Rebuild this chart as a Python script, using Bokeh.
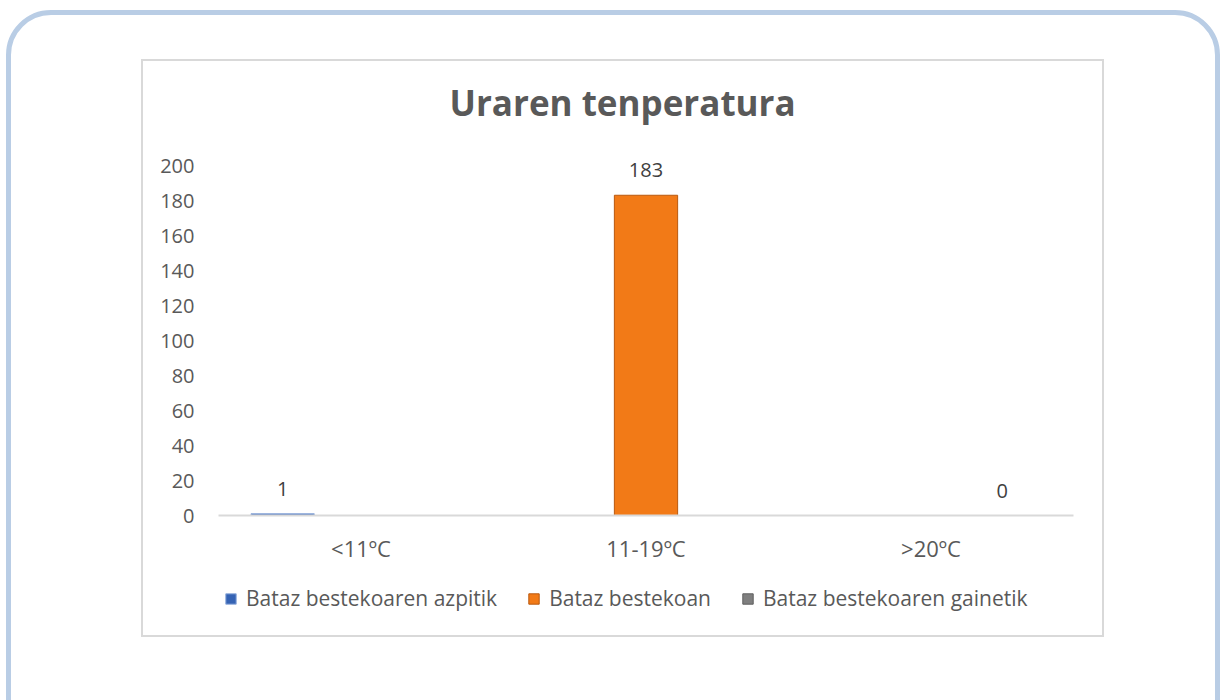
from bokeh.plotting import figure
from bokeh.layouts import column
from bokeh.models import (FactorRange, Range1d, ColumnDataSource, Legend, LegendItem,
                          FixedTicker, InlineStyleSheet)
from bokeh.transform import dodge
from bokeh.core.properties import value
from bokeh.embed import file_html
from bokeh.resources import INLINE

# ---- data ----
categories = ["<11ºC", "11-19ºC", ">20ºC"]
series_names = ["Bataz bestekoaren azpitik", "Bataz bestekoan", "Bataz bestekoaren gainetik"]
azpitik = [1, None, None]
bestekoan = [None, 183, None]
gainetik = [None, None, 0]
yticks = [0, 20, 40, 60, 80, 100, 120, 140, 160, 180, 200]

FONT = "Open Sans"
TXT = "#595959"

deco = InlineStyleSheet(css="""
:host { position: relative; overflow: hidden; }
:host::before { content: ""; position: absolute; left: 141px; top: 59px; width: 963px; height: 578px;
  border: 2px solid #d9d9d9; box-sizing: border-box; pointer-events: none; z-index: 1; }
:host::after { content: ""; position: absolute; left: 6px; top: 10px; width: 1214px; height: 740px;
  border: 5px solid #b9cde5; border-radius: 45px; box-sizing: border-box; pointer-events: none; z-index: 1; }
""")

# y range extends a little above 200 so the value labels are not clipped by the frame
p = figure(x_range=FactorRange(*categories), y_range=Range1d(0, 200 + 20 / 1.75),
           width=1222, height=575, output_backend="svg", toolbar_location=None,
           min_border_left=218, min_border_right=149, min_border_top=145, min_border_bottom=60,
           title="Uraren tenperatura")
p.outline_line_color = None
p.xgrid.visible = False
p.ygrid.visible = False
p.background_fill_color = None
p.border_fill_color = None

p.title.align = "left"
p.title.offset = 231
p.title.standoff = 39
p.title.text_font = FONT
p.title.text_font_size = "35px"
p.title.text_font_style = "bold"
p.title.text_color = TXT

# legend strip (separate small figure so the legend is not clipped by the plot frame)
q = figure(width=1222, height=125, output_backend="svg", toolbar_location=None,
           x_range=Range1d(0, 1), y_range=Range1d(0, 1),
           x_axis_location=None, y_axis_location=None,
           min_border_left=218, min_border_right=149, min_border_top=0, min_border_bottom=0)
q.outline_line_color = None
q.xgrid.visible = False
q.ygrid.visible = False
q.background_fill_color = None
q.border_fill_color = None

specs = [
    (series_names[0], azpitik, -0.275, "#3563b4", "#8eaadb"),
    (series_names[1], bestekoan, 0.0, "#f27a17", "#b9590f"),
    (series_names[2], gainetik, 0.25, "#7f7f7f", "#5f5f5f"),
]
items = []
for name, vals, off, fc, lc in specs:
    xs = [c for c, v in zip(categories, vals) if v is not None]
    ys = [v for v in vals if v is not None]
    src = ColumnDataSource(dict(cat=xs, val=ys, lab=[str(v) for v in ys]))
    p.vbar(x=dodge("cat", off, range=p.x_range), top="val", width=0.222, source=src,
           fill_color=fc, line_color=lc, line_width=1)
    p.text(x=dodge("cat", off, range=p.x_range), y="val", text="lab", source=src,
           text_align="center", text_baseline="middle", y_offset=-25,
           text_font=value(FONT), text_font_size="20px", text_color="#404040")
    # legend-only proxy (outside the visible range of the strip)
    proxy = q.vbar(x=[-5], top=[0], width=0.1, fill_color=fc, line_color=lc, line_width=1)
    items.append(LegendItem(label=name, renderers=[proxy]))

legend = Legend(items=items, orientation="horizontal", location=(6, 88),
                glyph_width=13, glyph_height=13, label_standoff=9, spacing=30,
                padding=0, margin=0, border_line_color=None, background_fill_alpha=0,
                label_text_font=FONT, label_text_font_size="21px", label_text_color=TXT)
q.add_layout(legend, "center")

# axes
p.xaxis.axis_line_color = "#d9d9d9"
p.xaxis.axis_line_width = 2
p.xaxis.major_tick_line_color = None
p.xaxis.minor_tick_line_color = None
p.xaxis.major_label_standoff = 11
p.xaxis.major_label_text_font = FONT
p.xaxis.major_label_text_font_size = "22px"
p.xaxis.major_label_text_color = TXT

p.yaxis.ticker = FixedTicker(ticks=yticks)
p.yaxis.axis_line_color = None
p.yaxis.major_tick_line_color = None
p.yaxis.minor_tick_line_color = None
p.yaxis.major_label_standoff = 18
p.yaxis.major_label_text_font = FONT
p.yaxis.major_label_text_font_size = "20px"
p.yaxis.major_label_text_color = TXT

layout = column(p, q, spacing=0, stylesheets=[deco])
open("out.html", "w").write(file_html(layout, INLINE))
